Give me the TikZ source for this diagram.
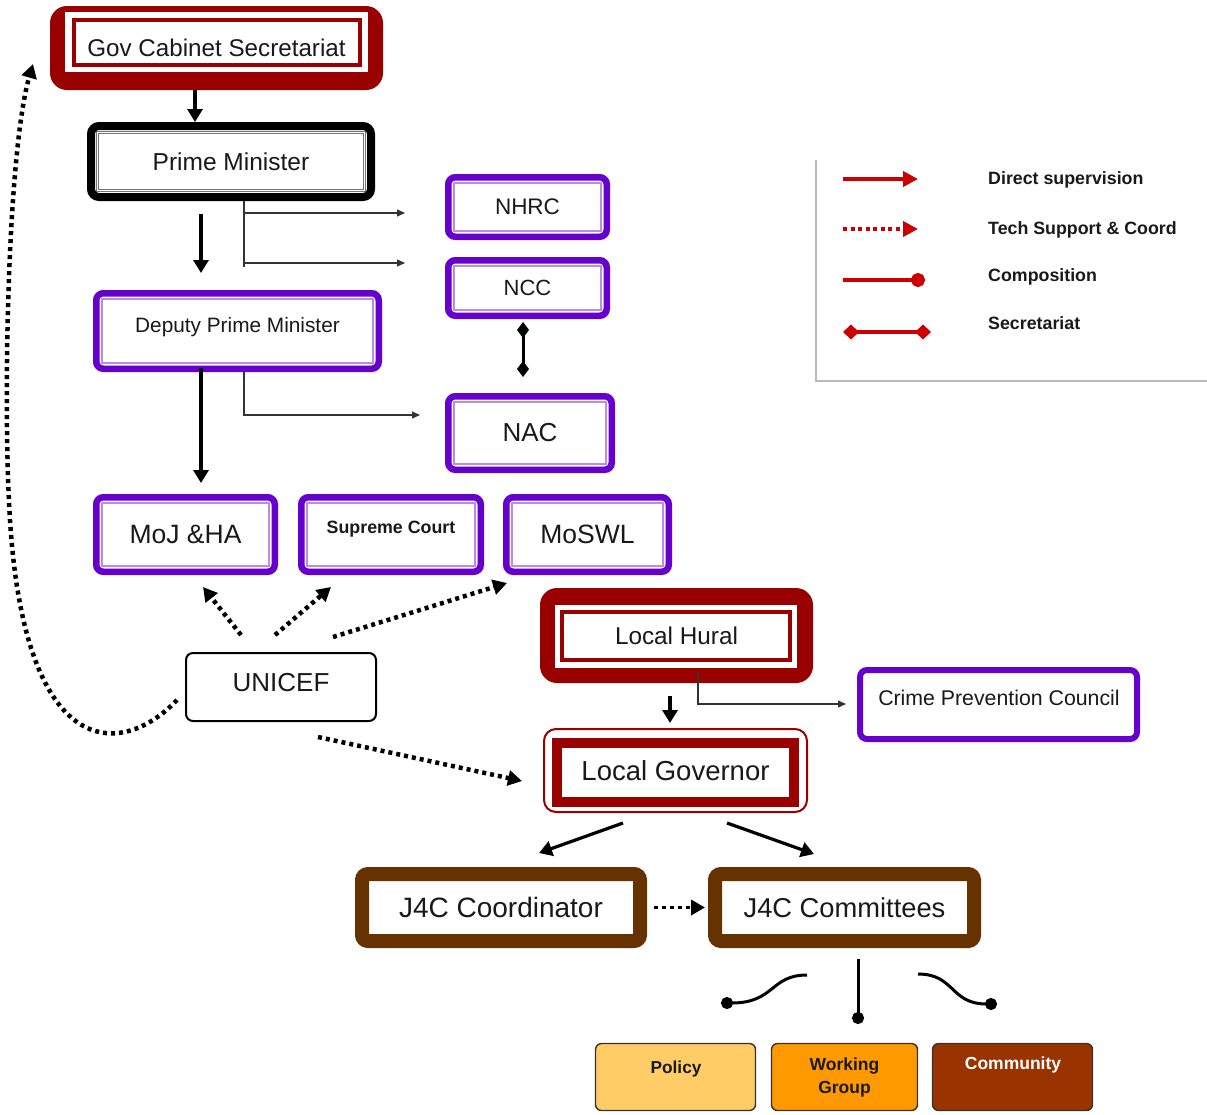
\documentclass[tikz,border=0pt]{standalone}
\usepackage{fontspec}
\setmainfont{Liberation Sans}
\usetikzlibrary{arrows.meta}
\definecolor{dred}{RGB}{153,0,0}
\definecolor{vio}{RGB}{102,0,204}
\definecolor{brn}{RGB}{102,51,0}
\definecolor{lred}{RGB}{204,0,0}
\definecolor{polfill}{RGB}{255,204,102}
\definecolor{wgfill}{RGB}{255,153,0}
\definecolor{comfill}{RGB}{153,51,0}
\definecolor{txtc}{RGB}{25,25,25}
\newcommand\fsz[1]{\fontsize{#1}{#1}\selectfont}
\begin{document}
\begin{tikzpicture}[x=1pt,y=-1pt,
  every node/.style={inner sep=0pt, text=txtc},
  purpbox/.style={draw=vio, line width=6.5pt, rounded corners=7pt, fill=white,
    path picture={\draw[vio!45, line width=1.8pt, sharp corners]
      ([shift={(5.5pt,5.5pt)}]path picture bounding box.south west) rectangle
      ([shift={(-5.5pt,-5.5pt)}]path picture bounding box.north east);}},
  pmbox/.style={draw=black, line width=8pt, rounded corners=8pt, fill=white,
    path picture={\draw[black!55, line width=3pt, sharp corners]
      ([shift={(6.5pt,6.5pt)}]path picture bounding box.south west) rectangle
      ([shift={(-6.5pt,-6.5pt)}]path picture bounding box.north east);
      \draw[white, line width=0.9pt, sharp corners]
      ([shift={(6.5pt,6.5pt)}]path picture bounding box.south west) rectangle
      ([shift={(-6.5pt,-6.5pt)}]path picture bounding box.north east);}},
  govbox/.style={fill=dred, rounded corners=17pt,
    path picture={\fill[white, sharp corners]
      ([shift={(15pt,18pt)}]path picture bounding box.south west) rectangle
      ([shift={(-15pt,-6pt)}]path picture bounding box.north east);
      \draw[dred, line width=3.5pt, fill=white, sharp corners]
      ([shift={(24pt,25pt)}]path picture bounding box.south west) rectangle
      ([shift={(-23pt,-14pt)}]path picture bounding box.north east);}},
  huralbox/.style={fill=dred, rounded corners=17pt,
    path picture={\fill[white, sharp corners]
      ([shift={(15pt,15pt)}]path picture bounding box.south west) rectangle
      ([shift={(-16pt,-17pt)}]path picture bounding box.north east);
      \draw[dred, line width=3.5pt, fill=white, sharp corners]
      ([shift={(22pt,23pt)}]path picture bounding box.south west) rectangle
      ([shift={(-23pt,-24pt)}]path picture bounding box.north east);}},
  lgovbox/.style={draw=dred, line width=2pt, rounded corners=12pt, fill=white,
    path picture={\draw[dred, line width=10pt, sharp corners]
      ([shift={(13pt,10pt)}]path picture bounding box.south west) rectangle
      ([shift={(-13pt,-14pt)}]path picture bounding box.north east);}},
  cpcbox/.style={draw=vio, line width=6pt, rounded corners=7pt, fill=white},
  brnbox/.style={draw=brn, line width=14pt, rounded corners=6pt, fill=white},
  unibox/.style={draw=black, line width=2pt, rounded corners=7pt, fill=white},
  smallbox/.style={draw=black!80, line width=1.4pt, rounded corners=6pt},
  bigarrow/.style={draw=black, line width=3.2pt, -{Triangle[length=13pt,width=15pt]}},
  dotarrow/.style={draw=black, line width=4.5pt, dash pattern=on 4pt off 4pt, -{Triangle[length=14pt,width=15pt]}},
  thinline/.style={draw=black!80, line width=1.1pt},
  thinarrow/.style={draw=black!80, line width=1.1pt, -{Triangle[length=8pt,width=7pt]}},
  secline/.style={draw=black, line width=3pt, {Diamond[length=16pt,width=12pt]}-{Diamond[length=16pt,width=12pt]}},
  compline/.style={draw=black, line width=3pt, -{Circle[length=12pt]}},
  legtxt/.style={font=\bfseries\fsz{17.8}, anchor=west},
  legframe/.style={draw=gray!55, line width=2.5pt},
]
\fill[white] (0,0) rectangle (1207,1114);
\useasboundingbox (0,0) rectangle (1207,1114);

% ---------- boxes ----------
\node[govbox, minimum width=333pt, minimum height=84pt, font=\fsz{24.2}] (gov) at (216.5,48) {Gov Cabinet Secretariat};
\node[pmbox, minimum width=280pt, minimum height=71pt, font=\fsz{24.5}] (pm) at (231,161.5) {Prime Minister};
\node[purpbox, minimum width=158.5pt, minimum height=59.5pt, font=\fsz{22.5}] (nhrc) at (527.5,207) {NHRC};
\node[purpbox, minimum width=158.5pt, minimum height=55.5pt, font=\fsz{22}] (ncc) at (527.5,288) {NCC};
\node[purpbox, minimum width=163.5pt, minimum height=73.5pt, font=\fsz{26}] (nac) at (530,433) {NAC};
\node[purpbox, minimum width=282.5pt, minimum height=75.5pt] (dpm) at (237.5,331) {};
\node[font=\fsz{20.8}] (dpmtxt) at (237.5,327) {Deputy Prime Minister};
\node[purpbox, minimum width=178.5pt, minimum height=74.5pt, font=\fsz{26.5}] (moj) at (185.5,534.5) {MoJ \&HA};
\node[purpbox, minimum width=179.5pt, minimum height=74.5pt] (sc) at (391,534.5) {};
\node[font=\bfseries\fsz{17.8}] (sctxt) at (391,529) {Supreme Court};
\node[purpbox, minimum width=162.5pt, minimum height=74.5pt, font=\fsz{26.5}] (moswl) at (587.5,534.5) {MoSWL};
\node[unibox, minimum width=190pt, minimum height=68pt] (unicef) at (281,687) {};
\node[font=\fsz{26}] (unitxt) at (281,683) {UNICEF};
\node[huralbox, minimum width=273pt, minimum height=95pt, font=\fsz{24.3}] (hural) at (676.5,635.5) {Local Hural};
\node[cpcbox, minimum width=277pt, minimum height=69pt] (cpc) at (998.5,704.5) {};
\node[font=\fsz{21.3}] (cpctxt) at (999,698) {Crime Prevention Council};
\node[lgovbox, minimum width=263pt, minimum height=83pt, font=\fsz{27.5}] (lgov) at (675.5,770.5) {Local Governor};
\node[brnbox, minimum width=278pt, minimum height=67pt, font=\fsz{28}] (coord) at (501,907.5) {J4C Coordinator};
\node[brnbox, minimum width=259pt, minimum height=67pt, font=\fsz{27.3}] (comm) at (844.5,907.5) {J4C Committees};
\node[smallbox, fill=polfill, minimum width=160pt, minimum height=67pt] (policy) at (675.5,1077) {};
\node[font=\bfseries\fsz{17.3}] (poltxt) at (676,1069) {Policy};
\node[smallbox, fill=wgfill, minimum width=146pt, minimum height=67pt, align=center, font=\bfseries\fontsize{17.5}{23}\selectfont] (wg) at (844.5,1077) {Working\\Group};
\node[smallbox, fill=comfill, minimum width=160pt, minimum height=67pt] (cmty) at (1012.5,1077) {};
\node[font=\bfseries\fsz{17.5}, text=white] (cmtytxt) at (1013,1065) {Community};

% ---------- solid supervision arrows ----------
\draw[bigarrow] ([xshift=-21.5pt]gov.south) -- ([xshift=-21.5pt]gov.south |- pm.north);
\coordinate (pmx) at ([xshift=-30pt]pm.south);
\draw[bigarrow, shorten <=13pt, shorten >=17pt] (pmx) -- (pmx |- dpm.north);
\coordinate (dpmx) at ([xshift=-36.5pt]dpm.south);
\draw[bigarrow, shorten <=-4pt, shorten >=11pt] (dpmx) -- (dpmx |- moj.north);
\coordinate (hurx) at ([xshift=-6.5pt]hural.south);
\draw[bigarrow, shorten <=13pt, shorten >=5pt] (hurx) -- (hurx |- lgov.north);
\draw[bigarrow] ([shift={(-52.5pt,-10pt)}]lgov.south) -- ([shift={(38pt,14pt)}]coord.north);
\draw[bigarrow] ([shift={(51.5pt,-10pt)}]lgov.south) -- ([shift={(-30.5pt,13pt)}]comm.north);

% ---------- thin connectors ----------
\coordinate (pmtap) at ([xshift=13pt]pm.south);
\coordinate (pmend) at (244,267);
\coordinate (nhrcin) at (405,213);
\coordinate (nccin) at (405,263);
\draw[thinline] (pmtap) -- (pmend);
\draw[thinarrow] (pmtap |- nhrcin) -- (nhrcin);
\draw[thinarrow] (pmtap |- nccin) -- (nccin);
\coordinate (nacin) at (420,415);
\draw[thinarrow] ([xshift=6.5pt]dpm.south) |- (nacin);
\coordinate (cpcin) at (846,704);
\draw[thinarrow] ([shift={(21.5pt,11pt)}]hural.south) |- (cpcin);

% ---------- secretariat ----------
\draw[secline] ([shift={(-4.5pt,-3pt)}]ncc.south) -- ([shift={(-7pt,16pt)}]nac.north);

% ---------- tech support (dotted) ----------
\draw[dotarrow] ([shift={(-40pt,17pt)}]unicef.north) -- ([shift={(17.5pt,-12pt)}]moj.south);
\draw[dotarrow] ([shift={(-6pt,17pt)}]unicef.north) -- ([shift={(-60pt,-12pt)}]sc.south);
\draw[dotarrow] ([shift={(52pt,15pt)}]unicef.north) -- ([shift={(-80.5pt,-8pt)}]moswl.south);
\draw[dotarrow] ([shift={(37pt,-15pt)}]unicef.south) -- ([shift={(-21pt,-10.5pt)}]lgov.west);
\coordinate (govtip) at (33,64);
\draw[dotarrow] ([shift={(-8pt,-13pt)}]unicef.west) .. controls (120,760) and (25,760) .. (10,520)
  .. controls (2.5,400) and (8,150) .. (govtip);
\draw[dotarrow, line width=3.8pt, shorten <=7pt, shorten >=3pt] (coord.east) -- (comm.west);

% ---------- composition ----------
\coordinate (poldot) at (721,1003);
\coordinate (wgdot) at (858,1024);
\coordinate (cmdot) at (997,1004);
\draw[compline] ([shift={(-37.5pt,-27pt)}]comm.south) .. controls (770,975) and (775,1003) .. (poldot);
\draw[compline] ([shift={(13.5pt,-11pt)}]comm.south) -- (wgdot);
\draw[compline] ([shift={(73.5pt,-26pt)}]comm.south) .. controls (955,974) and (950,1004) .. (cmdot);

% ---------- legend ----------
\coordinate (lgtop) at (816,160);
\coordinate (lgcorner) at (816,381);
\coordinate (lgright) at (1207,381);
\draw[legframe] (lgtop) -- (lgcorner) -- (lgright);
\coordinate (l1a) at (843,179); \coordinate (l1b) at (918,179);
\coordinate (l2a) at (843,229); \coordinate (l2b) at (918,229);
\coordinate (l3a) at (843,280); \coordinate (l3b) at (925,280);
\coordinate (l4a) at (843,332); \coordinate (l4b) at (931,332);
\draw[draw=lred, line width=4pt, -{Triangle[length=15pt,width=15pt]}] (l1a) -- (l1b);
\draw[draw=lred, line width=4pt, dash pattern=on 4pt off 3.5pt, -{Triangle[length=15pt,width=15pt]}] (l2a) -- (l2b);
\draw[draw=lred, line width=4pt, -{Circle[length=14pt]}] (l3a) -- (l3b);
\draw[draw=lred, line width=4pt, {Diamond[length=16pt,width=15pt]}-{Diamond[length=16pt,width=15pt]}] (l4a) -- (l4b);
\node[legtxt] (lt1) at (988,180) {Direct supervision};
\node[legtxt] (lt2) at (988,230) {Tech Support \& Coord};
\node[legtxt] (lt3) at (988,277) {Composition};
\node[legtxt] (lt4) at (988,323) {Secretariat};
\end{tikzpicture}
\end{document}
